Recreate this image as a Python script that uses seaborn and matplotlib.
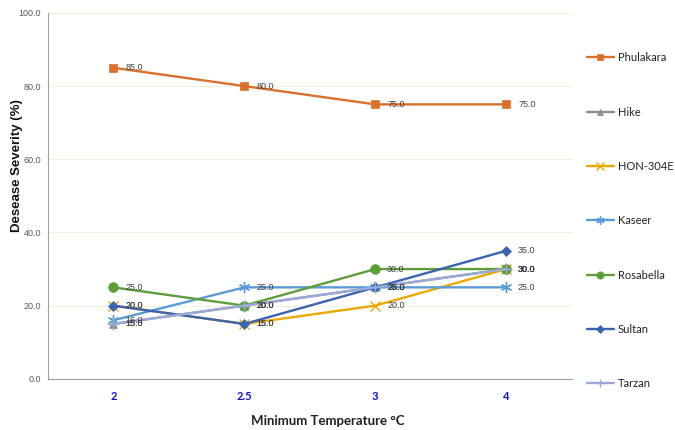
import matplotlib
matplotlib.use("Agg")
import matplotlib.pyplot as plt
import seaborn as sns
import pandas as pd

categories = ["2", "2.5", "3", "4"]
phulakara = [85, 80, 75, 75]
hike = [15, 20, 25, 30]
hon304e = [20, 15, 20, 30]
kaseer = [16, 25, 25, 25]
rosabella = [25, 20, 30, 30]
sultan = [20, 15, 25, 35]
tarzan = [15, 20, 25, 30]

series_names = ["Phulakara", "Hike", "HON-304E", "Kaseer", "Rosabella", "Sultan", "Tarzan"]
series_values = [phulakara, hike, hon304e, kaseer, rosabella, sultan, tarzan]
colors = ["#D9702B", "#8C8C8C", "#EBA800", "#5B9BD5", "#5E9E3A", "#3A64B0", "#9AAAD9"]
markers = ["s", "^", "x", (6, 2, 0), "o", "D", "+"]
msizes = [6, 6, 7, 8, 7, 5, 8]

sns.set_style("white")
plt.rcParams["font.family"] = ["Liberation Sans", "DejaVu Sans"]
fig = plt.figure(figsize=(6.75, 4.3), dpi=100)
ax = fig.add_axes([0.071, 0.119, 0.776, 0.851])

rows = []
for name, vals in zip(series_names, series_values):
    for i, v in enumerate(vals):
        rows.append({"pos": i, "cat": categories[i], "value": v, "series": name})
df = pd.DataFrame(rows)

for name, col, mk, ms in zip(series_names, colors, markers, msizes):
    sub = df[df["series"] == name]
    sns.lineplot(data=sub, x="pos", y="value", ax=ax, color=col, marker=mk,
                 markersize=ms, linewidth=1.7, markeredgecolor=col,
                 markeredgewidth=1.0 if mk in ("x", "+", (6, 2, 0)) else 0.5,
                 label=name)
    for _, r in sub.iterrows():
        ax.annotate(f"{r['value']:.1f}", (r["pos"], r["value"]), xytext=(8.5, 0),
                    textcoords="offset points", fontsize=6.5, color="#404040",
                    va="center", ha="left")

ax.set_xlim(-0.5, 3.5)
ax.set_ylim(0, 100)
ax.set_yticks([0, 20, 40, 60, 80, 100])
ax.set_yticklabels([f"{v:.1f}" for v in [0, 20, 40, 60, 80, 100]], fontsize=6.5, color="#595959")
ax.set_xticks(range(len(categories)))
ax.set_xticklabels(categories, fontsize=8, color="#1010D0", fontweight="bold",
                   family=["Lato", "DejaVu Sans"])
ax.set_xticks([0.5, 1.5, 2.5, 3.5], minor=True)
ax.tick_params(axis="x", which="major", length=0, pad=9)
ax.tick_params(axis="x", which="minor", length=4, color="#A0A0A0", direction="out")
ax.tick_params(axis="y", which="major", length=3, color="#A0A0A0", direction="out", pad=2)
ax.grid(axis="y", color="#EEF2E2", linewidth=0.8)
ax.set_axisbelow(True)
for s in ["top", "right"]:
    ax.spines[s].set_visible(False)
ax.spines["left"].set_color("#A0A0A0")
ax.spines["bottom"].set_color("#A0A0A0")

ax.set_xlabel("Minimum Temperature °C", fontsize=9.5, fontweight="bold",
              color="#222222", family=["Lato", "DejaVu Sans"])
ax.set_ylabel("Desease Severity (%)", fontsize=9.5, fontweight="bold", color="#111111")
ax.xaxis.set_label_coords(0.534, -0.098)
ax.yaxis.set_label_coords(-0.048, 0.582)

leg = ax.legend(loc="upper left", bbox_to_anchor=(1.01, 0.92), frameon=False,
                prop={"family": ["Lato", "DejaVu Sans"], "size": 8},
                labelspacing=3.9, handlelength=2.4, handletextpad=0.4, markerscale=0.75)
for t in leg.get_texts():
    t.set_color("#222222")

fig.savefig("out.png", dpi=100)
